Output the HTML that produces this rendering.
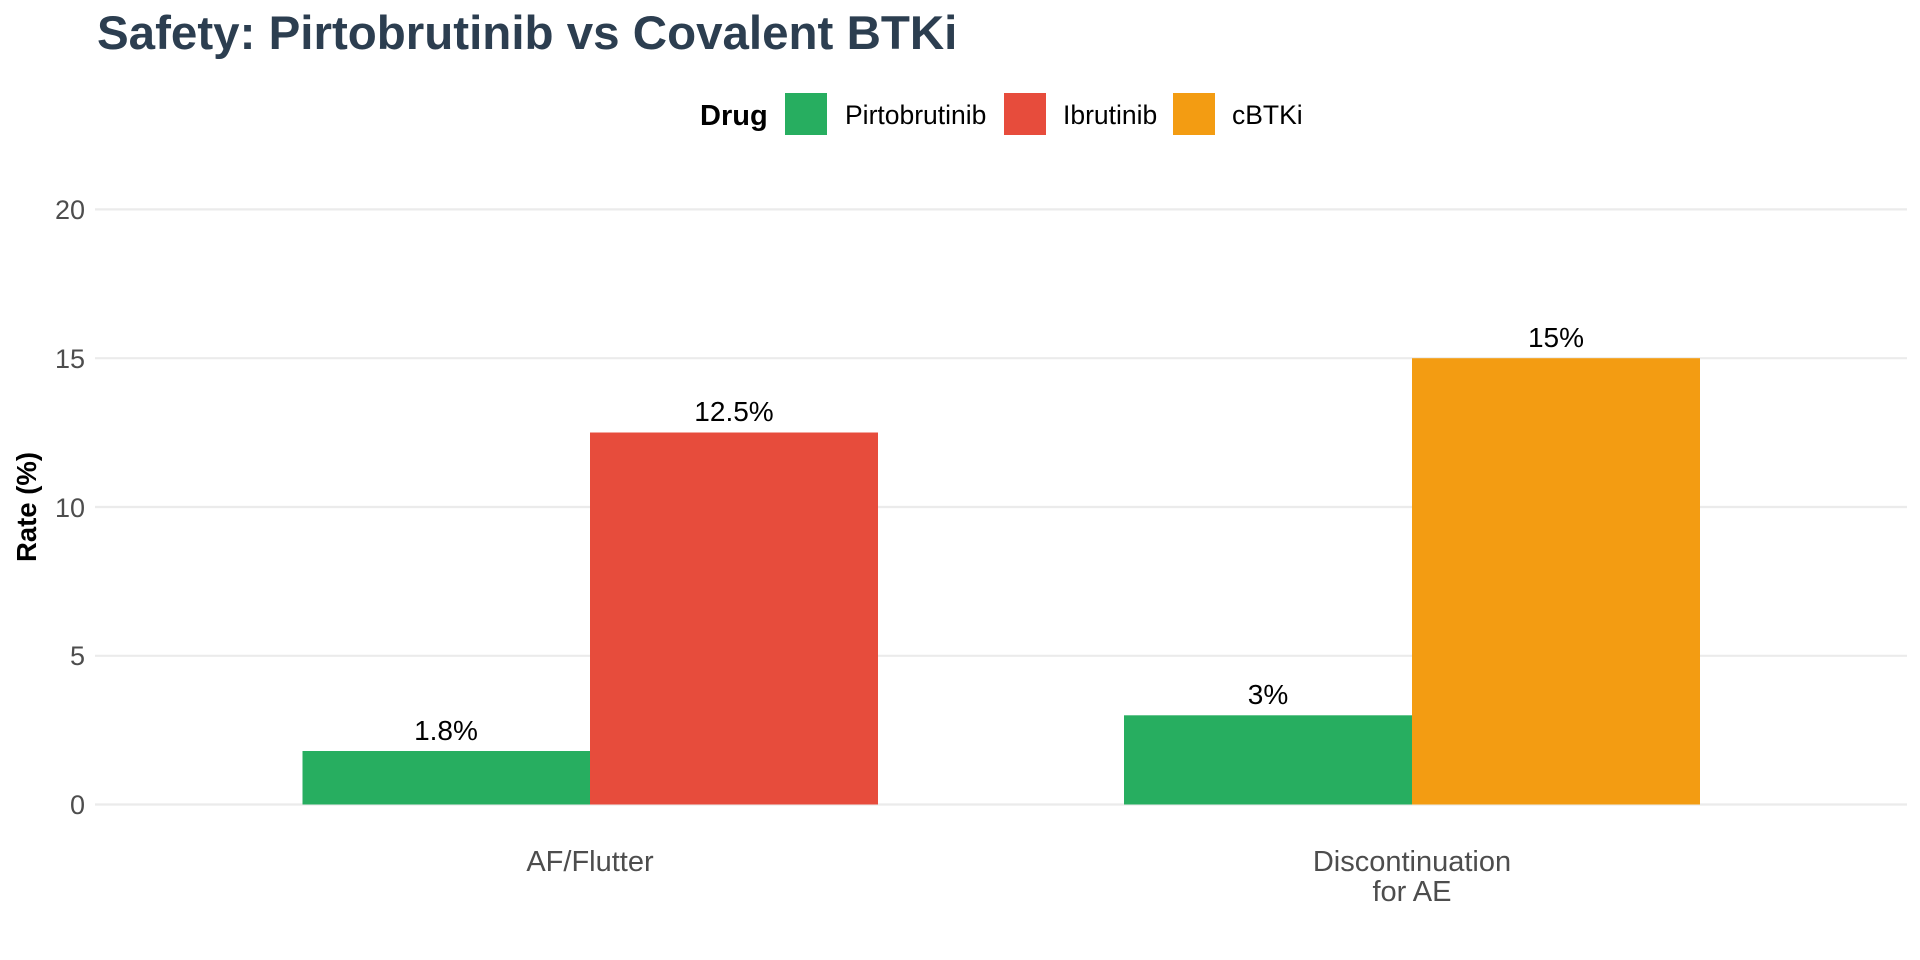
<!DOCTYPE html>
<html><head><meta charset="utf-8"><style>
html,body{margin:0;padding:0;background:#fff;}
svg{display:block;font-family:"Liberation Sans",sans-serif;}
</style></head><body>
<svg width="1920" height="960" viewBox="0 0 1920 960">
<text x="97" y="49" font-size="47.5" font-weight="bold" fill="#2c3e50">Safety: Pirtobrutinib vs Covalent BTKi</text>
<text x="700" y="125" font-size="29" font-weight="bold" fill="#000">Drug</text>
<rect x="785" y="93" width="42" height="42" fill="#27ae60"/>
<text x="845" y="124" font-size="26.5" fill="#000">Pirtobrutinib</text>
<rect x="1004" y="93" width="42" height="42" fill="#e74c3c"/>
<text x="1063" y="124" font-size="26.5" fill="#000">Ibrutinib</text>
<rect x="1173" y="93" width="42" height="42" fill="#f39c12"/>
<text x="1232" y="124" font-size="26.5" fill="#000">cBTKi</text>
<g stroke="#ebebeb" stroke-width="2.2">
<line x1="95" x2="1907" y1="209.4" y2="209.4"/>
<line x1="95" x2="1907" y1="358.2" y2="358.2"/>
<line x1="95" x2="1907" y1="507" y2="507"/>
<line x1="95" x2="1907" y1="655.8" y2="655.8"/>
<line x1="95" x2="1907" y1="804.5" y2="804.5"/>
</g>
<g font-size="27" fill="#4d4d4d" text-anchor="end">
<text x="85" y="219">20</text><text x="85" y="368">15</text><text x="85" y="517">10</text><text x="85" y="665">5</text><text x="85" y="814">0</text>
</g>
<text transform="translate(36,507) rotate(-90)" font-size="27.5" font-weight="bold" text-anchor="middle">Rate (%)</text>
<rect x="302.5" y="751" width="287.5" height="53.5" fill="#27ae60"/>
<rect x="590" y="432.5" width="288" height="372" fill="#e74c3c"/>
<rect x="1124" y="715.3" width="288" height="89.2" fill="#27ae60"/>
<rect x="1412" y="358.2" width="288" height="446.3" fill="#f39c12"/>
<g font-size="28" text-anchor="middle" fill="#000">
<text x="446" y="740">1.8%</text><text x="734" y="421">12.5%</text>
<text x="1268" y="704">3%</text><text x="1556" y="347">15%</text>
</g>
<g font-size="29" fill="#4d4d4d" text-anchor="middle">
<text x="590" y="871">AF/Flutter</text>
<text x="1412" y="871">Discontinuation</text><text x="1412" y="901">for AE</text>
</g>
</svg>
</body></html>
